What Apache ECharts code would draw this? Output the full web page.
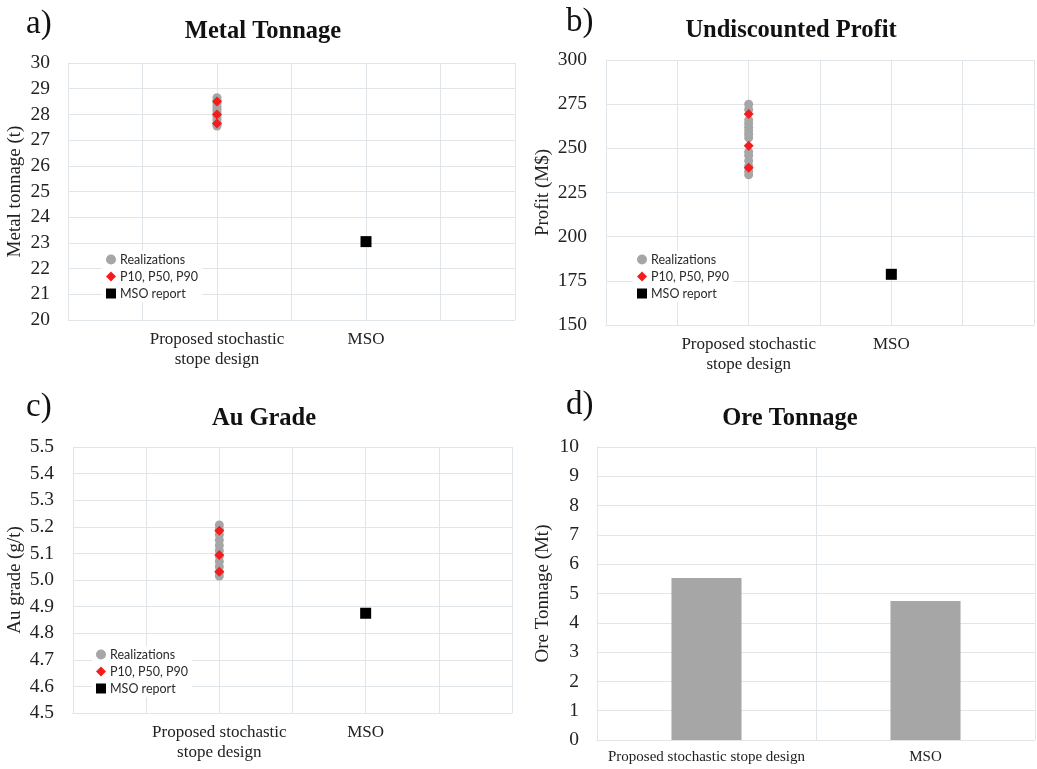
<!DOCTYPE html>
<html>
<head>
<meta charset="utf-8">
<script src="https://cdn.jsdelivr.net/npm/echarts@6/dist/echarts.min.js"></script>
<style>
  html, body { margin: 0; padding: 0; background: #fff; }
  #chart { width: 1037px; height: 769px; }
</style>
</head>
<body>
<div id="chart"></div>
<script>
// Designs compared on the x axis (value 1 and 2)
const designLabels = ['Proposed stochastic\nstope design', 'MSO'];
const barCategories = ['Proposed stochastic stope design', 'MSO'];

// a) Metal tonnage (t)
const metalRealizations = [27.55, 27.62, 27.7, 27.8, 27.9, 28.0, 28.1, 28.2, 28.3, 28.42, 28.55, 28.65];
const metalPercentiles = [27.65, 28.0, 28.5];
const metalMSO = 23.05;

// b) Undiscounted profit (M$)
const profitRealizations = [235, 237, 240, 243, 246, 248, 256, 258, 260, 262, 264, 266, 272, 275];
const profitPercentiles = [239, 251.5, 269.5];
const profitMSO = 178.7;

// c) Au grade (g/t)
const gradeRealizations = [5.015, 5.03, 5.05, 5.07, 5.09, 5.11, 5.13, 5.15, 5.17, 5.19, 5.207];
const gradePercentiles = [5.031, 5.094, 5.185];
const gradeMSO = 4.875;

// d) Ore tonnage (Mt)
const oreTonnage = [5.53, 4.74];

const SERIF = '"Liberation Serif", "DejaVu Serif", serif';
const SANS = 'Lato, "Liberation Sans", sans-serif';
const GRID_COLOR = '#dfe5e8';
const GRAY = '#a6a6a6';

const chart = echarts.init(document.getElementById('chart'), null, { renderer: 'canvas' });

const grids = [
  { left: 68, top: 63, width: 447, height: 257 },
  { left: 606, top: 60, width: 430, height: 265 },
  { left: 73, top: 447, width: 439, height: 266 },
  { left: 597, top: 447, width: 438, height: 293 }
];

function scatterX(gridIndex) {
  return {
    type: 'value', gridIndex, min: 0, max: 3, interval: 0.5,
    axisLine: { show: true, lineStyle: { color: GRID_COLOR } },
    axisTick: { show: false },
    splitLine: { show: true, lineStyle: { color: GRID_COLOR } },
    axisLabel: {
      margin: 10, fontFamily: SERIF, fontSize: 17, color: '#222', lineHeight: 20,
      formatter: v => (v === 1 ? designLabels[0] : v === 2 ? designLabels[1] : '')
    }
  };
}

function valueY(gridIndex, min, max, interval, name, nameGap, margin, digits) {
  return {
    type: 'value', gridIndex, min, max, interval,
    name, nameLocation: 'middle', nameGap,
    nameTextStyle: { fontFamily: SERIF, fontSize: 19, color: '#222' },
    axisLine: { show: true, lineStyle: { color: GRID_COLOR } },
    axisTick: { show: false },
    splitLine: { show: true, lineStyle: { color: GRID_COLOR } },
    axisLabel: {
      margin, fontFamily: SERIF, fontSize: 19.5, color: '#222',
      formatter: v => v.toFixed(digits)
    }
  };
}

function scatterSeries(idx, realizations, percentiles, mso) {
  return [
    {
      name: 'Realizations', type: 'scatter', xAxisIndex: idx, yAxisIndex: idx,
      symbol: 'circle', symbolSize: 9, itemStyle: { color: GRAY, opacity: 1 }, z: 2,
      data: realizations.map(v => [1, v])
    },
    {
      name: 'P10, P50, P90', type: 'scatter', xAxisIndex: idx, yAxisIndex: idx,
      symbol: 'diamond', symbolSize: 10, itemStyle: { color: '#f41c1c', opacity: 1 }, z: 3,
      data: percentiles.map(v => [1, v])
    },
    {
      name: 'MSO report', type: 'scatter', xAxisIndex: idx, yAxisIndex: idx,
      symbol: 'rect', symbolSize: 11, itemStyle: { color: '#000', opacity: 1 }, z: 3,
      data: [[2, mso]]
    }
  ];
}

function legendAt(left, top) {
  return {
    orient: 'vertical', left, top, padding: [2, 4], itemGap: 4,
    itemWidth: 10, itemHeight: 10, backgroundColor: '#fff',
    textStyle: {
      fontFamily: SANS, fontSize: 12.5, lineHeight: 12.5, color: '#2a2a2a',
      padding: [0, 0, 0, -1]
    },
    selectedMode: false,
    data: [
      { name: 'Realizations', icon: 'circle' },
      { name: 'P10, P50, P90', icon: 'diamond' },
      { name: 'MSO report', icon: 'rect' }
    ]
  };
}

function panelTitle(text, x, y) {
  return {
    text, left: x, top: y, textAlign: 'center',
    textStyle: { fontFamily: SERIF, fontSize: 24.5, fontWeight: 'bold', color: '#111' }
  };
}
function panelLetter(text, x, y) {
  return {
    text, left: x, top: y,
    textStyle: { fontFamily: SERIF, fontSize: 33, fontWeight: 'normal', color: '#111' }
  };
}

const option = {
  animation: false,
  backgroundColor: '#fff',
  title: [
    panelLetter('a)', 21, 3),
    panelLetter('b)', 561, 1),
    panelLetter('c)', 21, 386),
    panelLetter('d)', 561, 384),
    panelTitle('Metal Tonnage', 258, 14),
    panelTitle('Undiscounted Profit', 786, 13),
    panelTitle('Au Grade', 259, 401),
    panelTitle('Ore Tonnage', 785, 401)
  ],
  legend: [legendAt(102, 251), legendAt(633, 251), legendAt(92, 646)],
  grid: grids,
  xAxis: [
    scatterX(0), scatterX(1), scatterX(2),
    {
      type: 'category', gridIndex: 3, data: barCategories,
      axisLine: { show: true, lineStyle: { color: GRID_COLOR } },
      axisTick: { show: false },
      splitLine: { show: true, interval: 0, lineStyle: { color: GRID_COLOR } },
      axisLabel: { interval: 0, margin: 10, fontFamily: SERIF, fontSize: 15, color: '#222' }
    }
  ],
  yAxis: [
    valueY(0, 20, 30, 1, 'Metal tonnage (t)', 43, 18, 0),
    valueY(1, 150, 300, 25, 'Profit (M$)', 53, 19, 0),
    valueY(2, 4.5, 5.5, 0.1, 'Au grade (g/t)', 48, 19, 1),
    valueY(3, 0, 10, 1, 'Ore Tonnage (Mt)', 44, 18, 0)
  ],
  series: [
    ...scatterSeries(0, metalRealizations, metalPercentiles, metalMSO),
    ...scatterSeries(1, profitRealizations, profitPercentiles, profitMSO),
    ...scatterSeries(2, gradeRealizations, gradePercentiles, gradeMSO),
    {
      name: 'Ore tonnage', type: 'bar', xAxisIndex: 3, yAxisIndex: 3,
      barWidth: '32%', itemStyle: { color: GRAY },
      data: oreTonnage
    }
  ]
};

chart.setOption(option);
</script>
</body>
</html>
